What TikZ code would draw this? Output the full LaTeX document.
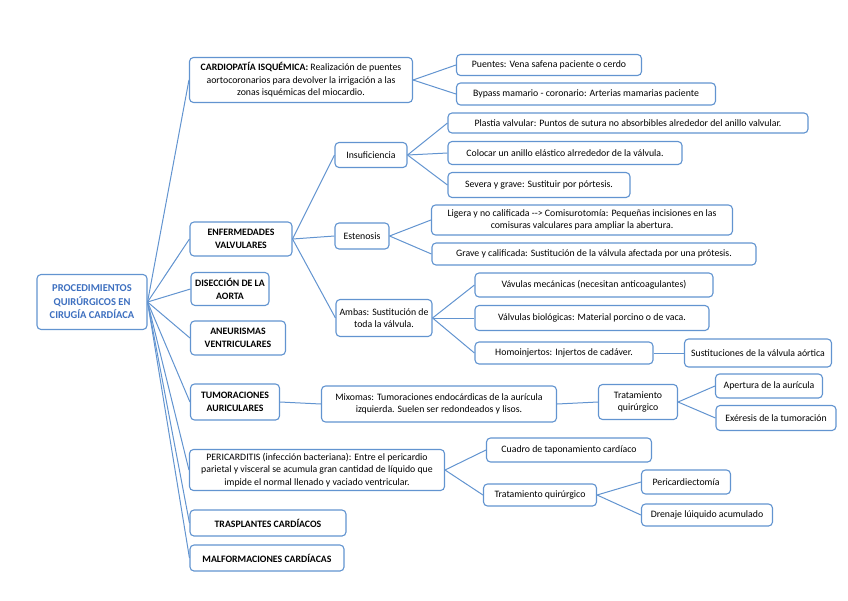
\documentclass[tikz,border=0pt]{standalone}
\usepackage{fontspec}
\setmainfont{Carlito}
\usepackage{tikz}
\usetikzlibrary{
	positioning,
	arrows.meta
}
\definecolor{boxblue}{RGB}{98,148,208}
\definecolor{rootblue}{RGB}{62,112,192}
\tikzset{
	x=1pt, y=-1pt,
	every node/.style={
		font=\fontsize{9.8}{12.6}\selectfont
	},
	box/.style={
		draw=boxblue, line width=1.1pt, rounded corners=4pt,
		fill=white, align=center, inner sep=2pt
	},
	sz/.style 2 args={
		minimum width=#1pt, minimum height=#2pt
	},
	head/.style={
		box, font=\fontsize{9.8}{12.6}\selectfont\bfseries
	},
	rootbox/.style={
		box, text=rootblue, font=\fontsize{10.5}{13.5}\selectfont\bfseries
	},
	every edge/.append style={
		draw=boxblue, line width=1pt
	}
}

\begin{document}
\begin{tikzpicture}
	\useasboundingbox (0,0) rectangle (848,600);
	\draw
		node[rootbox,sz={110}{55}] at (92,302)  (root) {PROCEDIMIENTOS\\QUIRÚRGICOS EN\\CIRUGÍA CARDÍACA}

		node[box,sz={223}{45}]  at (301,80)  (cardio) {\textbf{CARDIOPATÍA ISQUÉMICA:} Realización de puentes\\aortocoronarios para devolver la irrigación a las\\zonas isquémicas del miocardio.}
		node[head,sz={102}{34}] at (241,239) (valv)   {ENFERMEDADES\\VALVULARES}
		node[head,sz={78}{33}]  at (230,289) (disec)  {DISECCIÓN DE LA\\AORTA}
		node[head,sz={95}{34}]  at (238,338) (aneur)  {ANEURISMAS\\VENTRICULARES}
		node[head,sz={89}{36}]  at (235,402) (tumor)  {TUMORACIONES\\AURICULARES}
		node[box,sz={255}{41}]  at (317,470) (peri)   {PERICARDITIS (infección bacteriana): Entre el pericardio\\parietal y visceral se acumula gran cantidad de líquido que\\impide el normal llenado y vaciado ventricular.}
		node[head,sz={156}{26}] at (268,523) (trasp)  {TRASPLANTES CARDÍACOS}
		node[head,sz={154}{26}] at (267,558) (malf)   {MALFORMACIONES CARDÍACAS}

		node[box,sz={185}{21}]  at (549,65)  (puent)  {Puentes: Vena safena paciente o cerdo}
		node[box,sz={259}{22}]  at (586,94)  (bypass) {Bypass mamario - coronario: Arterias mamarias paciente}

		node[box,sz={72}{25}]   at (371,155) (insuf)  {Insuficiencia}
		node[box,sz={54}{26}]   at (362,236) (esten)  {Estenosis}
		node[box,sz={96}{37}]   at (384,318) (ambas)  {Ambas: Sustitución de\\toda la válvula.}

		node[box,sz={360}{20}]  at (628,123) (plast)  {Plastia valvular: Puntos de sutura no absorbibles alrededor del anillo valvular.}
		node[box,sz={234}{23}]  at (565,153) (coloc)  {Colocar un anillo elástico alrrededor de la válvula.}
		node[box,sz={182}{25}]  at (539,185) (sever)  {Severa y grave: Sustituir por pórtesis.}

		node[box,sz={301}{30}]  at (582,220) (liger)  {Ligera y no calificada -{}-{}> Comisurotomía: Pequeñas incisiones en las\\comisuras valculares para ampliar la abertura.}
		node[box,sz={324}{22}]  at (594,254) (gravc)  {Grave y calificada: Sustitución de la válvula afectada por una prótesis.}

		node[box,sz={238}{24}]  at (594,285) (mecan)  {Vávulas mecánicas (necesitan anticoagulantes)}
		node[box,sz={234}{25}]  at (592,318) (biolo)  {Válvulas biológicas: Material porcino o de vaca.}
		node[box,sz={178}{22}]  at (564,353) (homo)   {Homoinjertos: Injertos de cadáver.}
		node[box,sz={147}{28}]  at (758,353) (aort)   {Sustituciones de la válvula aórtica}

		node[box,sz={235}{36}]  at (439,404) (mixo)   {Mixomas: Tumoraciones endocárdicas de la aurícula\\izquierda. Suelen ser redondeados y lisos.}
		node[box,sz={79}{35}]   at (638,402) (tratm)  {Tratamiento\\quirúrgico}
		node[box,sz={107}{24}]  at (769,386) (apert)  {Apertura de la aurícula}
		node[box,sz={120}{25}]  at (776,418) (exer)   {Exéresis de la tumoración}

		node[box,sz={165}{24}]  at (569,450) (cuadr)  {Cuadro de taponamiento cardíaco}
		node[box,sz={113}{22}]  at (540,495) (tratp)  {Tratamiento quirúrgico}
		node[box,sz={89}{24}]   at (686,482) (pcard)  {Pericardiectomía}
		node[box,sz={131}{22}]  at (707,515) (dren)   {Drenaje lúiquido acumulado}

		(root.east)  edge (cardio.west)
		(root.east)  edge (valv.west)
		(root.east)  edge (disec.west)
		(root.east)  edge (aneur.west)
		(root.east)  edge (tumor.west)
		(root.east)  edge (peri.west)
		(root.east)  edge (trasp.west)
		(root.east)  edge (malf.west)

		(cardio.east) edge (puent.west)
		(cardio.east) edge (bypass.west)

		(valv.east)  edge (insuf.west)
		(valv.east)  edge (esten.west)
		(valv.east)  edge (ambas.west)

		(insuf.east) edge (plast.west)
		(insuf.east) edge (coloc.west)
		(insuf.east) edge (sever.west)

		(esten.east) edge (liger.west)
		(esten.east) edge (gravc.west)

		(ambas.east) edge (mecan.west)
		(ambas.east) edge (biolo.west)
		(ambas.east) edge (homo.west)
		(homo.east)  edge (aort.west)

		(tumor.east) edge (mixo.west)
		(mixo.east)  edge (tratm.west)
		(tratm.east) edge (apert.west)
		(tratm.east) edge (exer.west)

		(peri.east)  edge (cuadr.west)
		(peri.east)  edge (tratp.west)
		(tratp.east) edge (pcard.west)
		(tratp.east) edge (dren.west)
	;
\end{tikzpicture}
\end{document}
